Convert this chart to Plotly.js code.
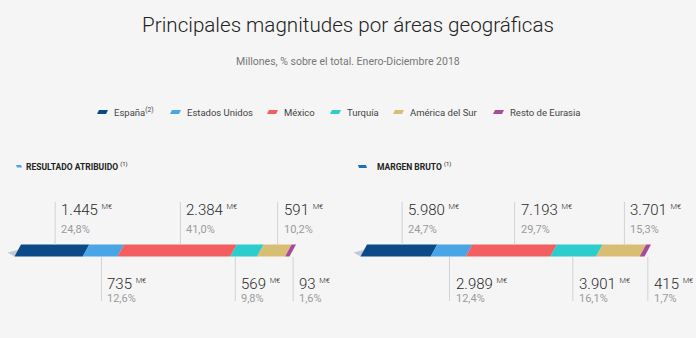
<!DOCTYPE html>
<html>
<head>
<meta charset="utf-8">
<script src="https://cdn.plot.ly/plotly-3.0.1.min.js"></script>
<style>html,body{margin:0;padding:0;background:#f5f5f5;}#chart{width:696px;height:338px;}</style>
</head>
<body>
<div id="chart"></div>
<script>
// ---- data ----
const regions = ["España", "Estados Unidos", "México", "Turquía", "América del Sur", "Resto de Eurasia"];
const legendLabels = ["España<sup>(2)</sup>", "Estados Unidos", "México", "Turquía", "América del Sur", "Resto de Eurasia"];
const colors = ["#0b4a86", "#49a5e6", "#f35e61", "#2dcccd", "#d8be75", "#a64b9a"];
const resultadoValues = [1445, 735, 2384, 569, 591, 93];
const resultadoPct = [24.8, 12.6, 41.0, 9.8, 10.2, 1.6];
const margenValues = [5980, 2989, 7193, 3901, 3701, 415];
const margenPct = [24.7, 12.4, 29.7, 16.1, 15.3, 1.7];
const panelTitles = ["RESULTADO ATRIBUIDO", "MARGEN BRUTO"];

// ---- layout constants (pixels) ----
const W = 696, H = 338;
const barTop = 244.5, barBot = 256.5, slantPx = 6.5;
const legendTextX = [112, 185, 282, 345, 408, 508];   // legend item text starts (px)
const legendY = 112;
const panels = [
  {values: resultadoValues, pct: resultadoPct, xa: "x", startPx: 21, endPx: 296, domPx: [0, 348]},
  {values: margenValues, pct: margenPct, xa: "x2", startPx: 367, endPx: 651, domPx: [348, 696]}
];

function fmtVal(v) { return v.toString().replace(/\B(?=(\d{3})+(?!\d))/g, "."); }
function fmtPct(p) { return p.toFixed(1).replace(".", ",") + "%"; }
function estWidthPx(v) { const t = fmtVal(v); return t.replace(/\./g, "").length * 8.6 + (t.includes(".") ? 3.5 : 0) + 16; }
function pathPx(pts) { return "M " + pts.map(p => (p[0] / W) + "," + p[1]).join(" L ") + " Z"; }

const traces = [], shapes = [], annotations = [];
const layoutAxes = {};

panels.forEach((p, pi) => {
  const total = p.values.reduce((a, b) => a + b, 0);
  const k = (p.endPx - p.startPx) / 100;       // px per percent unit
  const r0 = (p.domPx[0] - p.startPx) / k, r1 = (p.domPx[1] - p.startPx) / k;
  const axName = pi === 0 ? "xaxis" : "xaxis2";
  layoutAxes[axName] = {domain: [p.domPx[0] / W, p.domPx[1] / W], range: [r0, r1], visible: false, fixedrange: true};
  const s = slantPx / k;
  // shadow wedge at bar start
  traces.push({
    type: "scatter", mode: "lines", xaxis: p.xa, yaxis: "y",
    x: [-s - 7 / k, s * 0.35, -s, -s - 7 / k], y: [252.5, barTop + 4, barBot, 252.5],
    fill: "toself", fillcolor: "rgba(150,165,185,0.55)", line: {width: 0}, showlegend: false, hoverinfo: "skip"
  });
  let cum = 0;
  const labels = [];
  p.values.forEach((v, i) => {
    const a = cum / total * 100, b = (cum + v) / total * 100;
    cum += v;
    traces.push({
      type: "scatter", mode: "lines", xaxis: p.xa, yaxis: "y", name: regions[i],
      x: [a, b, b - s, a - s, a], y: [barTop, barTop, barBot, barBot, barTop],
      fill: "toself", fillcolor: colors[i], line: {width: 0, color: colors[i]},
      showlegend: false, hoverinfo: "skip"
    });
    const top = i % 2 === 0;
    labels.push({i, v, top, lx: top ? (a + b) / 2 : a + 0.35 * (b - a)});
  });
  // avoid overlaps between bottom labels: shift left when too close
  const bottoms = labels.filter(l => !l.top);
  for (let j = bottoms.length - 2; j >= 0; j--) {
    const need = (estWidthPx(bottoms[j].v) + 16) / k;
    if (bottoms[j + 1].lx - bottoms[j].lx < need) bottoms[j].lx = bottoms[j + 1].lx - need;
  }
  labels.forEach(l => {
    const lx = l.lx, top = l.top;
    shapes.push({type: "line", xref: p.xa, yref: "y", x0: lx, x1: lx,
      y0: top ? 202 : barBot + 0.5, y1: top ? barTop : 301, line: {color: "#d2d2d2", width: 1}});
    annotations.push({xref: p.xa, yref: "y", x: lx, y: top ? 210 : 284, xanchor: "left", yanchor: "middle", xshift: 4,
      showarrow: false, text: fmtVal(l.v) + " <sup><span style='font-size:7.5px'>M€</span></sup>",
      font: {family: "Roboto", size: 15, weight: 300, color: "#2a2a2a"}});
    annotations.push({xref: p.xa, yref: "y", x: lx, y: top ? 229 : 298, xanchor: "left", yanchor: "middle", xshift: 4,
      showarrow: false, text: fmtPct(p.pct[l.i]), font: {family: "Roboto", size: 11, color: "#9b9b9b"}});
  });
});

// legend (drawn manually to match the small slanted swatches)
regions.forEach((r, i) => {
  const tx = legendTextX[i], y = legendY;
  shapes.push({type: "path", xref: "paper", yref: "y",
    path: pathPx([[tx - 13, y - 2], [tx - 4, y - 2], [tx - 6, y + 2], [tx - 15, y + 2]]), fillcolor: colors[i], line: {width: 0}});
  annotations.push({xref: "paper", yref: "y", x: tx / W, y: y, xanchor: "left", yanchor: "middle", showarrow: false,
    text: legendLabels[i], font: {family: "Roboto", size: 9.5, color: "#444"}});
});

// panel headers
annotations.push({xref: "paper", yref: "y", x: 24 / W, y: 166, xanchor: "left", yanchor: "middle", showarrow: false,
  text: "<b>" + panelTitles[0] + "</b> <sup>(1)</sup>", font: {family: "Roboto", size: 8.5, color: "#222"}});
annotations.push({xref: "paper", yref: "y", x: 375 / W, y: 166, xanchor: "left", yanchor: "middle", showarrow: false,
  text: "<b>" + panelTitles[1] + "</b> <sup>(1)</sup>", font: {family: "Roboto", size: 8.5, color: "#222"}});
shapes.push({type: "path", xref: "paper", yref: "y", path: pathPx([[17, 167.5], [22, 167.5], [21, 165], [16, 165]]), fillcolor: "#49a5e6", line: {width: 0}});
shapes.push({type: "path", xref: "paper", yref: "y", path: pathPx([[359, 168], [367, 168], [366, 165], [358, 165]]), fillcolor: "#1973b8", line: {width: 0}});

// subtitle
annotations.push({xref: "paper", yref: "y", x: 0.5, y: 61, xanchor: "center", yanchor: "middle", showarrow: false,
  text: "Millones, % sobre el total. Enero-Diciembre 2018", font: {family: "Roboto", size: 10.5, color: "#777"}});

const layout = {
  width: W, height: H,
  margin: {l: 0, r: 0, t: 0, b: 0},
  paper_bgcolor: "#f5f5f5", plot_bgcolor: "#f5f5f5",
  title: {text: "Principales magnitudes por áreas geográficas", x: 0.5, xanchor: "center", y: 1 - 25 / H, yanchor: "middle",
    font: {family: "Roboto", size: 20.6, weight: 300, color: "#222"}},
  xaxis: layoutAxes.xaxis, xaxis2: layoutAxes.xaxis2,
  yaxis: {range: [H, 0], domain: [0, 1], visible: false, fixedrange: true},
  showlegend: false,
  shapes: shapes, annotations: annotations
};

Plotly.newPlot("chart", traces, layout, {displayModeBar: false});
</script>
</body>
</html>
